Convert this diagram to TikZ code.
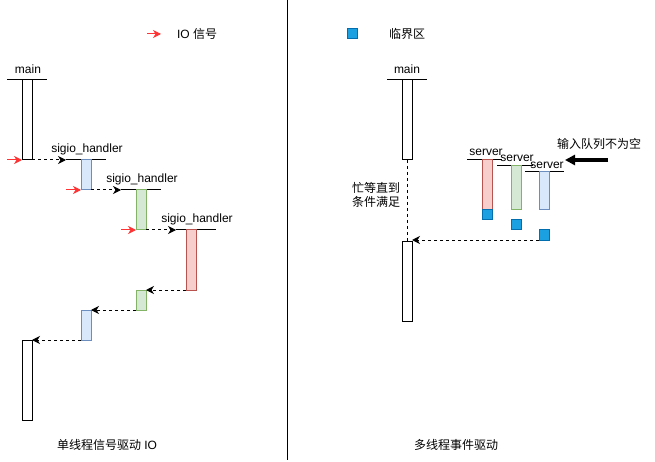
\documentclass[tikz,border=0pt]{standalone}
\usepackage{fontspec}
\setmainfont{Liberation Sans}
\newfontfamily\cjk{Noto Sans CJK SC}
\usetikzlibrary{arrows.meta}
\definecolor{bluefill}{HTML}{DAE8FC}
\definecolor{bluedraw}{HTML}{6C8EBF}
\definecolor{greenfill}{HTML}{D5E8D4}
\definecolor{greendraw}{HTML}{82B366}
\definecolor{redfill}{HTML}{F8CECC}
\definecolor{reddraw}{HTML}{B85450}
\definecolor{critfill}{HTML}{1BA1E2}
\definecolor{critdraw}{HTML}{006EAF}
\definecolor{sigred}{HTML}{FF3333}
\tikzset{
  act/.style={draw=black, fill=white, line width=1pt, inner sep=0pt, outer sep=0pt, anchor=north west, minimum width=10pt},
  actblue/.style={act, draw=bluedraw, fill=bluefill},
  actgreen/.style={act, draw=greendraw, fill=greenfill},
  actred/.style={act, draw=reddraw, fill=redfill},
  crit/.style={act, draw=critdraw, fill=critfill, minimum height=10pt},
  lbl/.style={inner sep=0pt, font=\fontsize{12}{14}\selectfont},
  hdr/.style={line width=1pt},
  call/.style={line width=1pt, dash pattern=on 3pt off 3pt, -{Stealth[length=8pt,width=8pt,inset=2.5pt]}},
  sig/.style={line width=1pt, draw=sigred, -{Stealth[length=8pt,width=8pt,inset=2.5pt]}},
}
\begin{document}
\begin{tikzpicture}[x=1pt,y=-1pt]
\useasboundingbox (0,0) rectangle (655,462);
% divider
\draw[line width=1pt] (287,0) -- (287,460);
% legend
\coordinate (lg1) at (147,34); \coordinate (lg2) at (161,34);
\draw[sig] (lg1) -- (lg2);
\node[lbl] (lgt1) at (197,34) {IO {\cjk 信号}};
\node[crit] (lgsq) at (347,29) {};
\node[lbl] (lgt2) at (407,34) {\cjk 临界区};
% ---------- left side ----------
\node[lbl] (mainlbl) at (28,69) {main};
\coordinate (mh1) at (7,80); \coordinate (mh2) at (47,80);
\draw[hdr] (mh1) -- (mh2);
\node[act, minimum height=80pt] (m1) at (22,80) {};
% handler 1
\node[lbl] (hl1) at (87,149) {sigio\_handler};
\coordinate (h1a) at (66,160); \coordinate (h1b) at (106,160);
\draw[hdr] (h1a) -- (h1b);
\node[actblue, minimum height=30pt] (b1) at (81,160) {};
\coordinate (s1) at (7,160);
\draw[sig] (s1) -- (m1.south west);
\draw[call] (m1.south east) -- (h1a);
% handler 2
\node[lbl] (hl2) at (142,179) {sigio\_handler};
\coordinate (h2a) at (121,190); \coordinate (h2b) at (161,190);
\draw[hdr] (h2a) -- (h2b);
\node[actgreen, minimum height=40pt] (g1) at (136,190) {};
\coordinate (s2) at (66,190);
\draw[sig] (s2) -- (b1.south west);
\draw[call] (b1.south east) -- (h2a);
% handler 3
\node[lbl] (hl3) at (197,219) {sigio\_handler};
\coordinate (h3a) at (176,230); \coordinate (h3b) at (216,230);
\draw[hdr] (h3a) -- (h3b);
\node[actred, minimum height=60pt] (r1) at (186,230) {};
\coordinate (s3) at (121,230);
\draw[sig] (s3) -- (g1.south west);
\draw[call] (g1.south east) -- (h3a);
% returns
\node[actgreen, minimum height=20pt] (g2) at (136,290) {};
\node[actblue, minimum height=30pt] (b2) at (81,310) {};
\node[act, minimum height=80pt] (m2) at (22,340) {};
\draw[call] (r1.south west) -- (g2.north east);
\draw[call] (g2.south west) -- (b2.north east);
\draw[call] (b2.south west) -- (m2.north east);
\node[lbl] (lefttitle) at (107,445) {{\cjk 单线程信号驱动} IO};
% ---------- right side ----------
\node[lbl] (rmainlbl) at (407,69) {main};
\coordinate (rmh1) at (387,80); \coordinate (rmh2) at (427,80);
\draw[hdr] (rmh1) -- (rmh2);
\node[act, minimum height=80pt] (rm1) at (402,80) {};
\node[act, minimum height=80pt] (rm2) at (402,241) {};
\draw[line width=1pt, dash pattern=on 3pt off 3pt] (rm1.south) -- (rm2.north);
\node[lbl, align=center] (busy) at (376,195) {\cjk 忙等直到\\\cjk 条件满足};
% servers
\node[lbl] (sv1) at (486,152) {server};
\coordinate (sv1a) at (467,160); \coordinate (sv1b) at (502,160);
\draw[hdr] (sv1a) -- (sv1b);
\node[actred, minimum height=50pt] (sr1) at (482,160) {};
\node[crit] (c1) at (482,210) {};
\node[lbl] (sv2) at (517,158) {server};
\coordinate (sv2a) at (497,166); \coordinate (sv2b) at (533,166);
\draw[hdr] (sv2a) -- (sv2b);
\node[actgreen, minimum height=44pt] (sr2) at (511,166) {};
\node[crit] (c2) at (511,220) {};
\node[lbl] (sv3) at (547,165) {server};
\coordinate (sv3a) at (525,172); \coordinate (sv3b) at (564,172);
\draw[hdr] (sv3a) -- (sv3b);
\node[actblue, minimum height=38pt] (sr3) at (539,172) {};
\node[crit] (c3) at (539,230) {};
\draw[call] (c3.south west) -- (rm2.north east |- c3.south west);
% input queue arrow
\node[lbl] (queue) at (599,144) {\cjk 输入队列不为空};
\coordinate (qa) at (608,160); \coordinate (qb) at (565,160);
\draw[line width=3.5pt, -{Triangle[length=10pt,width=10pt]}] (qa) -- (qb);
\node[lbl] (righttitle) at (456,445) {\cjk 多线程事件驱动};
\end{tikzpicture}
\end{document}
